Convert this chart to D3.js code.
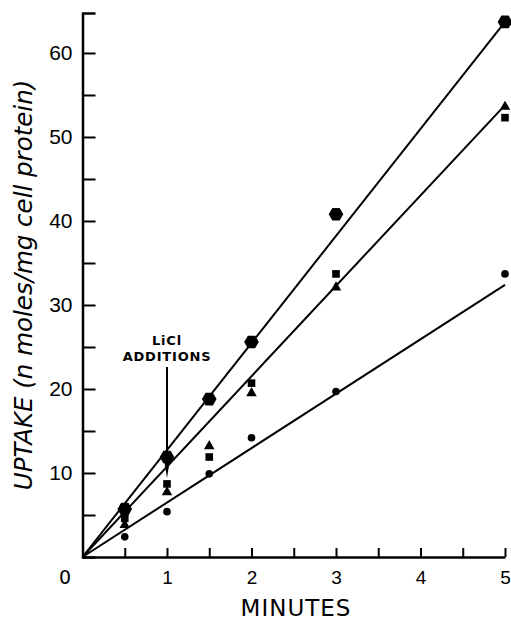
<!DOCTYPE html>
<html>
<head>
<meta charset="utf-8">
<script src="https://cdn.jsdelivr.net/npm/d3@7/dist/d3.min.js"></script>
<style>
	body { margin: 0; background: #fff; }
	svg { display: block; font-family: "DejaVu Sans", sans-serif; }
	.axis path, .axis line { stroke: #000; }
	.axis text { fill: #000; }
</style>
</head>
<body>
<svg id="chart" width="511" height="622"></svg>
<script>
// minutes at which samples were taken
var minutes = [0.5, 1, 1.5, 2, 3, 5];

// uptake, n moles / mg cell protein
var hexagons  = [5.7, 11.9, 18.8, 25.6, 40.8, 63.7];
var squares   = [4.6, 8.7, 11.9, 20.7, 33.7, 52.3];
var triangles = [3.8, 7.7, 13.2, 19.5, 32.1, 53.6];
var circles   = [2.4, 5.4, 9.9, 14.2, 19.7, 33.7];

// fitted lines through the origin, value reached at 5 min
var fitEnds = [63.7, 53.8, 32.4];

var yTicks = d3.range(5, 61, 5);
var xTicks = d3.range(0.5, 5.01, 0.5);

var svg = d3.select('#chart');

var x = d3.scaleLinear().domain([0, 5]).range([82.5, 505]);
var y = d3.scaleLinear().domain([0, 64.76]).range([557, 13]);

// axes
svg.append('g')
	.attr('class', 'axis')
	.attr('transform', 'translate(82.5,0)')
	.call(d3.axisLeft(y)
		.tickValues(yTicks)
		.tickSizeInner(-13)
		.tickSizeOuter(-13)
		.tickPadding(10)
		.tickFormat(d => d % 10 ? '' : d))
	.call(g => g.select('.domain').attr('stroke-width', 2.5))
	.call(g => g.selectAll('line').attr('stroke-width', 2))
	.call(g => g.selectAll('text').attr('font-size', 21));

svg.append('g')
	.attr('class', 'axis')
	.attr('transform', 'translate(0,557)')
	.call(d3.axisBottom(x)
		.tickValues(xTicks)
		.tickSizeInner(-9)
		.tickSizeOuter(0)
		.tickPadding(14)
		.tickFormat(d => d % 1 ? '' : d))
	.call(g => g.select('.domain').attr('stroke-width', 2.5))
	.call(g => g.selectAll('line').attr('stroke-width', 2))
	.call(g => g.selectAll('text').attr('font-size', 19));

svg.append('text')
	.attr('x', 65).attr('y', 584)
	.attr('text-anchor', 'middle')
	.attr('font-size', 19)
	.text('0');

svg.append('text')
	.attr('x', 296).attr('y', 616)
	.attr('text-anchor', 'middle')
	.attr('font-size', 23)
	.attr('letter-spacing', 1)
	.text('MINUTES');

svg.append('text')
	.attr('transform', 'translate(32,285) rotate(-90)')
	.attr('text-anchor', 'middle')
	.attr('font-size', 24.5)
	.attr('font-style', 'italic')
	.text('UPTAKE (n moles/mg cell protein)');

// fitted lines
var line = d3.line().x(d => x(d[0])).y(d => y(d[1]));
svg.append('g')
	.selectAll('path')
	.data(fitEnds)
	.enter()
	.append('path')
	.attr('d', v => line([[0, 0], [5, v]]))
	.attr('fill', 'none')
	.attr('stroke', '#000')
	.attr('stroke-width', 2);

// LiCl arrow
svg.append('text')
	.attr('x', x(1)).attr('y', 345)
	.attr('text-anchor', 'middle')
	.attr('font-size', 13)
	.attr('font-weight', 'bold')
	.attr('letter-spacing', 0.8)
	.text('LiCl');
svg.append('text')
	.attr('x', x(1)).attr('y', 361)
	.attr('text-anchor', 'middle')
	.attr('font-size', 13)
	.attr('font-weight', 'bold')
	.attr('letter-spacing', 0.8)
	.text('ADDITIONS');
svg.append('line')
	.attr('x1', x(1)).attr('x2', x(1))
	.attr('y1', 367).attr('y2', y(11))
	.attr('stroke', '#000').attr('stroke-width', 2);
svg.append('path')
	.attr('d', 'M' + (x(1) - 3.5) + ',' + y(12) + 'L' + (x(1) + 3.5) + ',' + y(12) + 'L' + x(1) + ',' + y(9.4) + 'Z')
	.attr('fill', '#000');

// markers
function hexagon(r) {
	return d3.line()(d3.range(6).map(i => [r * Math.cos(i * Math.PI / 3), r * Math.sin(i * Math.PI / 3)])) + 'Z';
}

function plot(values, d) {
	svg.append('g')
		.selectAll('path')
		.data(values)
		.enter()
		.append('path')
		.attr('transform', (v, i) => 'translate(' + x(minutes[i]) + ',' + y(v) + ')')
		.attr('d', d)
		.attr('fill', '#000');
}

plot(circles, d3.symbol(d3.symbolCircle, 46)());
plot(triangles, d3.symbol(d3.symbolTriangle, 48)());
plot(squares, d3.symbol(d3.symbolSquare, 58)());
plot(hexagons, hexagon(7.3));
</script>
</body>
</html>
